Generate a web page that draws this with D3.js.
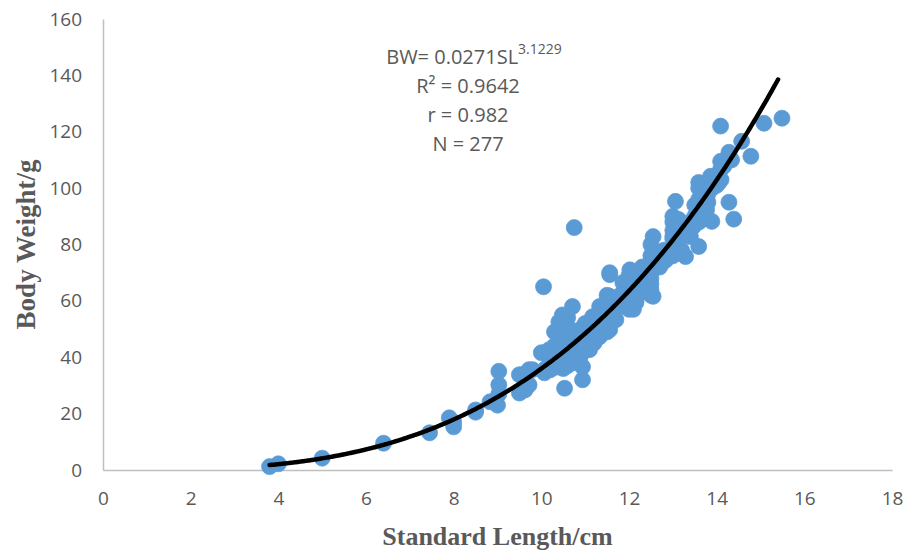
<!DOCTYPE html>
<html>
<head>
<meta charset="utf-8">
<script src="https://cdn.jsdelivr.net/npm/d3@7"></script>
<style>
  html, body { margin: 0; padding: 0; background: #fff; }
  svg { display: block; }
</style>
</head>
<body>
<svg id="chart" width="907" height="553"></svg>
<script>
// ---- data ----
const standardLength = [
  3.8, 4.0, 5.0, 6.4, 7.45, 7.9, 8.0, 8.0, 8.5, 8.5, 8.83, 9.0, 9.03, 9.03, 9.03, 9.5, 9.5, 9.56, 9.63, 9.72, 9.72, 9.8,
  10.0, 10.05, 10.07, 10.07, 10.18, 10.2, 10.25, 10.3, 10.3, 10.3, 10.4, 10.4, 10.4, 10.48, 10.48, 10.48, 10.5, 10.5, 10.5, 10.5, 10.53, 10.55, 10.55, 10.55,
  10.6, 10.6, 10.6, 10.6, 10.7, 10.7, 10.7, 10.71, 10.75, 10.8, 10.8, 10.8, 10.87, 10.9, 10.9, 10.9, 10.94, 10.94, 10.94, 10.94,
  10.1, 10.2, 10.35, 10.45, 10.6, 10.65,
  11.0, 11.0, 11.0, 11.0, 11.1, 11.1, 11.1, 11.17, 11.2, 11.2, 11.2, 11.3, 11.3, 11.3, 11.33, 11.33, 11.4, 11.4, 11.4,
  11.5, 11.5, 11.5, 11.5, 11.5, 11.5, 11.56, 11.56, 11.56, 11.56, 11.6, 11.6, 11.7, 11.7, 11.7, 11.8, 11.8, 11.86, 11.9, 11.9,
  12.0, 12.0, 12.0, 12.0, 12.0, 12.0, 12.02, 12.1, 12.1, 12.1, 12.1, 12.16, 12.2, 12.2, 12.2, 12.25, 12.3, 12.3, 12.3, 12.32, 12.4, 12.4,
  12.5, 12.5, 12.5, 12.5, 12.5, 12.5, 12.5, 12.5, 12.5, 12.55, 12.55, 12.55, 12.7, 12.7, 12.8, 12.8, 12.85, 12.9,
  13.0, 13.0, 13.0, 13.0, 13.0, 13.0, 13.0, 13.06, 13.1, 13.1, 13.13, 13.17, 13.2, 13.2, 13.29, 13.3, 13.4, 13.4, 13.47,
  13.5, 13.5, 13.59, 13.59, 13.59, 13.59, 13.6, 13.7, 13.77, 13.8, 13.8, 13.86, 13.89, 13.89, 13.9, 14.0, 14.0, 14.05, 14.09, 14.09, 14.09,
  14.1, 14.16, 14.28, 14.28, 14.34, 14.39, 14.57, 14.78, 15.08, 15.49
];
const bodyWeight = [
  1.2, 2.2, 4.2, 9.5, 13.2, 18.5, 15.3, 17.0, 20.5, 21.3, 24.2, 23.0, 35.0, 30.2, 27.0, 33.8, 27.3, 33.8, 28.4, 35.6, 30.2, 35.6,
  41.6, 65.0, 41.6, 34.5, 42.7, 37.0, 38.0, 40.0, 44.0, 49.0, 38.0, 47.0, 52.5, 55.0, 52.3, 43.7, 36.0, 42.0, 45.0, 50.0, 29.0, 46.2, 39.0, 53.0,
  40.0, 44.0, 48.0, 54.0, 38.0, 42.0, 46.0, 58.0, 86.0, 40.0, 44.0, 48.0, 39.0, 42.0, 45.0, 50.0, 32.0, 36.6, 41.6, 46.2,
  36.0, 35.5, 36.5, 40.5, 37.0, 50.0,
  44.0, 48.0, 52.0, 46.2, 42.7, 46.0, 50.0, 54.4, 45.0, 49.0, 53.0, 47.0, 51.0, 55.0, 58.0, 47.3, 50.0, 53.0, 57.0,
  49.0, 52.0, 55.0, 58.0, 60.0, 62.0, 69.3, 70.0, 61.6, 49.8, 56.0, 60.0, 53.3, 57.0, 60.0, 58.0, 62.0, 66.5, 60.0, 64.0,
  57.0, 60.0, 63.0, 65.0, 67.0, 69.0, 71.0, 57.0, 62.9, 64.0, 67.0, 59.4, 62.0, 66.0, 70.0, 71.0, 65.0, 69.0, 72.0, 67.6, 67.0, 70.0,
  62.0, 64.0, 66.0, 68.0, 70.0, 72.0, 74.0, 76.0, 80.0, 82.8, 61.6, 78.0, 72.0, 76.0, 74.0, 78.0, 74.7, 77.0,
  76.0, 79.0, 82.0, 82.8, 85.0, 88.0, 90.0, 95.3, 80.0, 84.0, 88.9, 85.3, 78.0, 87.0, 75.7, 84.0, 82.8, 88.0, 86.4,
  90.0, 94.0, 102.0, 96.0, 79.3, 100.0, 88.0, 91.0, 92.4, 95.0, 98.0, 104.2, 88.2, 104.0, 100.0, 101.0, 104.0, 102.0, 106.7, 122.0, 109.5,
  103.0, 107.7, 95.0, 112.7, 110.0, 89.0, 116.6, 111.3, 123.0, 124.8
];
const xTicks = [0, 2, 4, 6, 8, 10, 12, 14, 16, 18];
const yTicks = [0, 20, 40, 60, 80, 100, 120, 140, 160];
const fitCoef = [0.0271, 3.1229];      // BW = a * SL^b
const fitRange = [3.8, 15.4];
const annotationLines = ["R\u00B2 = 0.9642", "r = 0.982", "N = 277"];

// ---- chart ----
const svg = d3.select("#chart");
const x = d3.scaleLinear().domain([0, 18]).range([103, 892]);
const y = d3.scaleLinear().domain([0, 160]).range([470, 19]);
const grey = "#595959";

// axes
const xAxis = d3.axisBottom(x).tickValues(xTicks).tickSize(0).tickPadding(22);
const gx = svg.append("g").attr("transform", `translate(0,${y(0)})`).call(xAxis);
gx.select(".domain").attr("stroke", "#BFBFBF").attr("stroke-width", 1.5);
gx.selectAll("text").attr("fill", grey).style("font-family", "'Open Sans', sans-serif").style("font-size", "19px");

const yAxis = d3.axisLeft(y).tickValues(yTicks).tickSize(0).tickPadding(21);
const gy = svg.append("g").attr("transform", `translate(${x(0)},0)`).call(yAxis);
gy.select(".domain").attr("stroke", "#BFBFBF").attr("stroke-width", 1.5);
gy.selectAll("text").attr("fill", grey).style("font-family", "'Open Sans', sans-serif").style("font-size", "19px");

// points
const pts = standardLength.map((v, i) => ({ sl: v, bw: bodyWeight[i] }));
svg.append("g").selectAll("circle").data(pts).join("circle")
  .attr("cx", d => x(d.sl)).attr("cy", d => y(d.bw)).attr("r", 8)
  .attr("fill", "#5B9BD5").attr("stroke", "#5B9BD5").attr("stroke-width", 0.75);

// trendline
const curve = d3.range(fitRange[0], fitRange[1] + 0.0001, 0.05).map(s => [s, fitCoef[0] * Math.pow(s, fitCoef[1])]);
svg.append("path").datum(curve)
  .attr("d", d3.line().x(d => x(d[0])).y(d => y(d[1])).curve(d3.curveBasis))
  .attr("fill", "none").attr("stroke", "#000").attr("stroke-width", 4.5).attr("stroke-linecap", "round");

// annotation
const ann = svg.append("g").attr("fill", grey).style("font-family", "'Open Sans', sans-serif").style("font-size", "20px").attr("text-anchor", "middle");
const t1 = ann.append("text").attr("x", 474).attr("y", 64);
t1.append("tspan").text("BW= " + fitCoef[0] + "SL");
t1.append("tspan").attr("dy", -10).style("font-size", "14px").text(fitCoef[1]);
annotationLines.forEach((s, i) => {
  ann.append("text").attr("x", 468).attr("y", 93 + i * 29).text(s);
});

// axis titles
svg.append("text").attr("x", x(9)).attr("y", 545).attr("text-anchor", "middle")
  .attr("fill", grey).style("font-family", "'Liberation Serif', serif").style("font-weight", "bold").style("font-size", "26px")
  .text("Standard Length/cm");
svg.append("text").attr("transform", `translate(35,${y(80)}) rotate(-90)`).attr("text-anchor", "middle")
  .attr("fill", grey).style("font-family", "'Liberation Serif', serif").style("font-weight", "bold").style("font-size", "27px")
  .text("Body Weight/g");
</script>
</body>
</html>
